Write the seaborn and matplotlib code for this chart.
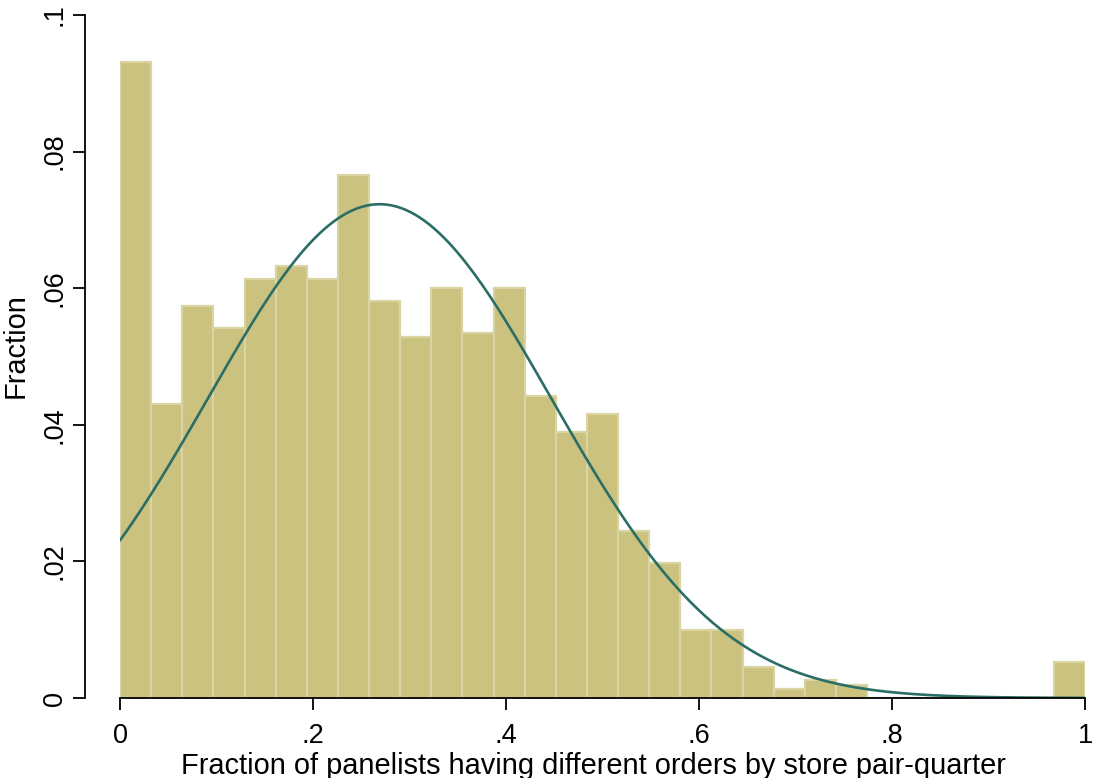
import matplotlib
matplotlib.use("Agg")
import matplotlib.pyplot as plt
import numpy as np
import pandas as pd
import seaborn as sns

# Histogram: 31 equal bins on [0, 1], height = fraction of observations
n_bins = 31
fractions = [
    0.0931, 0.0430, 0.0574, 0.0541, 0.0614, 0.0633, 0.0614, 0.0766,
    0.0581, 0.0528, 0.0600, 0.0535, 0.0600, 0.0442, 0.0390, 0.0416,
    0.0244, 0.0198, 0.0099, 0.0099, 0.0046, 0.0013, 0.0026, 0.0019,
    0.0, 0.0, 0.0, 0.0, 0.0, 0.0, 0.0053,
]

# Normal overlay (fraction scale), parameters
norm_mean = 0.269
norm_sd = 0.178

x_ticks = [0, 0.2, 0.4, 0.6, 0.8, 1.0]
x_tick_labels = ["0", ".2", ".4", ".6", ".8", "1"]
y_ticks = [0, 0.02, 0.04, 0.06, 0.08, 0.1]
y_tick_labels = ["0", ".02", ".04", ".06", ".08", ".1"]

BAR = "#cac27e"
BAR_EDGE = "#dad4a2"
LINE = "#2a6e66"

sns.set_theme(style="ticks")
plt.rcParams["font.family"] = ["Liberation Sans", "DejaVu Sans"]
plt.rcParams["text.color"] = "black"
plt.rcParams["axes.labelcolor"] = "black"

width = 1.0 / n_bins
edges = np.linspace(0, 1, n_bins + 1)
hist_df = pd.DataFrame({
    "mid": (edges[:-1] + edges[1:]) / 2,
    "frac": fractions,
})

xs = np.linspace(0, 1, 400)
curve_df = pd.DataFrame({
    "x": xs,
    "y": width * np.exp(-0.5 * ((xs - norm_mean) / norm_sd) ** 2)
    / (norm_sd * np.sqrt(2 * np.pi)),
})

fig = plt.figure(figsize=(10.94, 7.78), dpi=100)
ax = fig.add_axes([120 / 1094, 1 - 698 / 778, 965 / 1094, 683 / 778])

sns.histplot(
    data=hist_df, x="mid", weights="frac", binwidth=width, binrange=(0, 1),
    stat="count", color=BAR, edgecolor=BAR_EDGE, linewidth=1.6, alpha=1, ax=ax,
)
sns.lineplot(data=curve_df, x="x", y="y", color=LINE, linewidth=1.9, ax=ax)

# spine position first: moving a spine resets the tick labels
ax.spines["top"].set_visible(False)
ax.spines["right"].set_visible(False)
ax.spines["left"].set_position(("outward", 25.2))
for side in ("left", "bottom"):
    ax.spines[side].set_linewidth(1.3)
    ax.spines[side].set_color("black")

ax.set_xlim(0, 1)
ax.set_ylim(0, 0.1)
ax.set_xticks(x_ticks)
ax.set_xticklabels(x_tick_labels)
ax.set_yticks(y_ticks)
ax.set_yticklabels(y_tick_labels, rotation=90, va="center")
ax.tick_params(axis="both", length=8.3, width=1.3, color="black",
               labelcolor="black", labelsize=19.5)
ax.tick_params(axis="x", pad=10)
ax.tick_params(axis="y", pad=4)

ax.set_xlabel("Fraction of panelists having different orders by store pair-quarter",
              fontsize=20.9, color="black")
ax.xaxis.set_label_coords(0.491, -0.079)
ax.set_ylabel("Fraction", fontsize=20.9, color="black")
ax.yaxis.set_label_coords(-0.0933, 0.5154)

fig.savefig("out.png", dpi=100)
